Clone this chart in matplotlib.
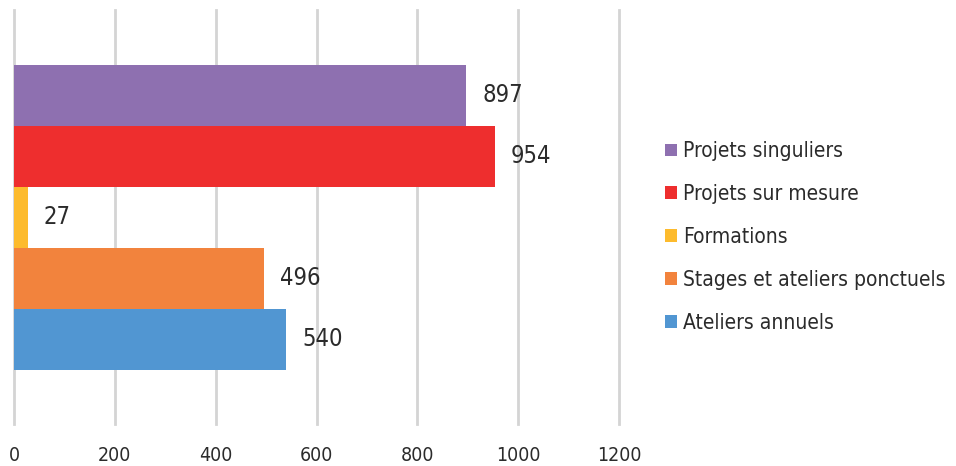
import matplotlib
matplotlib.use("Agg")
import matplotlib.pyplot as plt
from matplotlib.patches import Patch

# data (top to bottom)
labels = ['Projets singuliers', 'Projets sur mesure', 'Formations',
          'Stages et ateliers ponctuels', 'Ateliers annuels']
values = [897, 954, 27, 496, 540]
colors = ['#8E70B0', '#EE2E2E', '#FDBB2D', '#F2833D', '#5196D2']
xticks = [0, 200, 400, 600, 800, 1000, 1200]

plt.rcParams['font.family'] = ['DejaVu Sans']
plt.rcParams['font.stretch'] = 'condensed'
txt = '#2b2b2b'

fig = plt.figure(figsize=(9.56, 4.66), dpi=100)
ax = fig.add_axes([14 / 956, 42 / 466, 605 / 956, 414 / 466])

ypos = list(range(len(values)))[::-1]
ax.barh(ypos, values, height=1.0, color=colors, zorder=3)
for y, v in zip(ypos, values):
    ax.text(v + 32, y, str(v), va='center', ha='left', fontsize=17, color=txt)

ax.set_xlim(0, 1200)
ax.set_ylim(-0.5 - 0.89, 4.5 + 0.9)
ax.set_xticks(xticks)
ax.set_xticklabels([str(t) for t in xticks], fontsize=14, color=txt)
ax.set_yticks([])
ax.tick_params(axis='x', length=0, pad=16)
ax.grid(axis='x', color='#D4D4D4', linewidth=2, zorder=0)
for gl in ax.get_xgridlines():
    gl.set_clip_on(False)
for s in ax.spines.values():
    s.set_visible(False)

handles = [Patch(facecolor=c, edgecolor='none') for c in colors]
fig.legend(handles, labels, loc='center left', bbox_to_anchor=(655 / 956, 229 / 466),
           frameon=False, fontsize=15, labelcolor=txt,
           handlelength=0.55, handleheight=0.55, handletextpad=0.3,
           labelspacing=1.1, borderpad=0)

fig.savefig('out.png', dpi=100)
